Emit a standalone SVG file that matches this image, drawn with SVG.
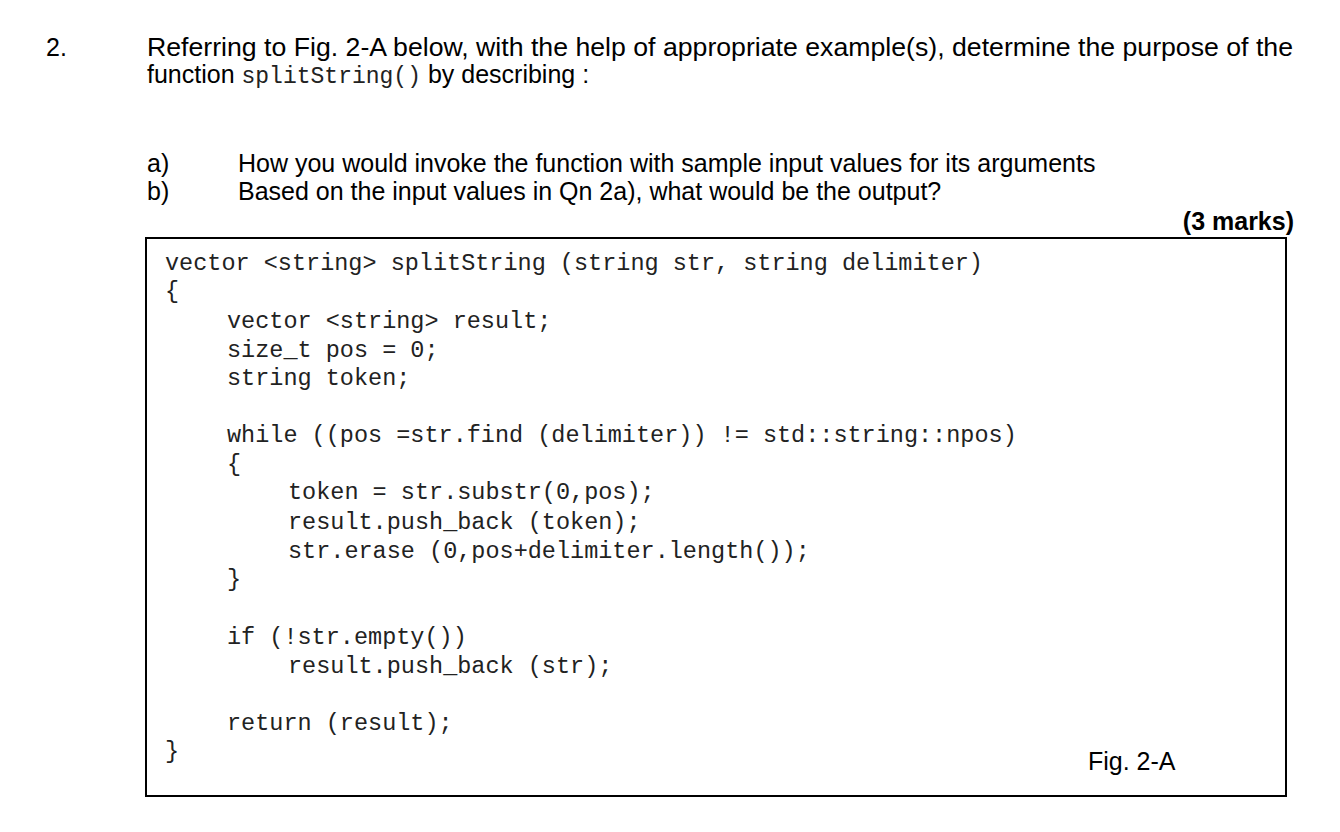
<svg xmlns="http://www.w3.org/2000/svg" width="1340" height="832" viewBox="0 0 1340 832">
<style>
.t{font-family:"Liberation Sans",Arial,sans-serif;font-size:25px;fill:#000}
.c{font-family:"Liberation Mono","Courier New",monospace;font-size:23.5px;fill:#222;white-space:pre}
.cs{font-family:"Liberation Mono","Courier New",monospace;font-size:23px;fill:#222}
</style>
<rect width="1340" height="832" fill="#fff"/>
<g id="question">
<text class="t" x="46" y="56">2.</text>
<text class="t" x="147" y="56" textLength="1146" lengthAdjust="spacingAndGlyphs">Referring to Fig. 2-A below, with the help of appropriate example(s), determine the purpose of the</text>
<text class="t" x="147" y="83">function <tspan class="cs">splitString()</tspan> by describing :</text>
<text class="t" x="147" y="172">a)</text>
<text class="t" x="238" y="172">How you would invoke the function with sample input values for its arguments</text>
<text class="t" x="147" y="200">b)</text>
<text class="t" x="238" y="200">Based on the input values in Qn 2a), what would be the output?</text>
<text class="t" x="1294" y="230" text-anchor="end" font-weight="bold">(3 marks)</text>
</g>
<g id="figure">
<rect x="146" y="238" width="1140" height="558" fill="none" stroke="#000" stroke-width="2"/>
<g xml:space="preserve">
<text class="c" x="165" y="270">vector &lt;string&gt; splitString (string str, string delimiter)</text>
<text class="c" x="165" y="298">{</text>
<text class="c" x="227" y="328">vector &lt;string&gt; result;</text>
<text class="c" x="227" y="357">size_t pos = 0;</text>
<text class="c" x="227" y="385">string token;</text>
<text class="c" x="227" y="442">while ((pos =str.find (delimiter)) != std::string::npos)</text>
<text class="c" x="227" y="471">{</text>
<text class="c" x="288" y="499">token = str.substr(0,pos);</text>
<text class="c" x="288" y="529">result.push_back (token);</text>
<text class="c" x="288" y="558">str.erase (0,pos+delimiter.length());</text>
<text class="c" x="227" y="586">}</text>
<text class="c" x="227" y="644">if (!str.empty())</text>
<text class="c" x="288" y="673">result.push_back (str);</text>
<text class="c" x="227" y="730">return (result);</text>
<text class="c" x="165" y="758">}</text>
</g>
<text class="t" x="1088" y="770">Fig. 2-A</text>
</g>
</svg>
